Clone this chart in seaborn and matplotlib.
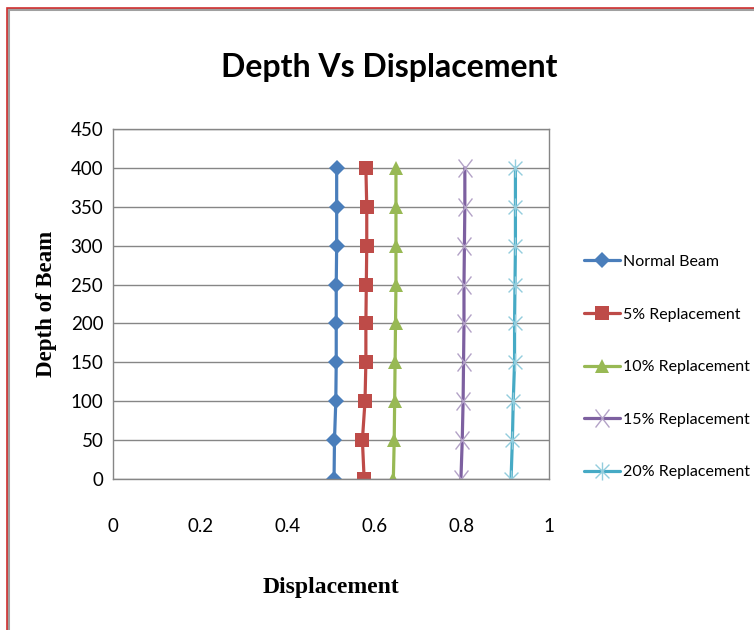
import matplotlib
matplotlib.use("Agg")
import matplotlib.pyplot as plt
import seaborn as sns
import pandas as pd
import numpy as np
from matplotlib.path import Path
from matplotlib.patches import Rectangle

depth = [0, 50, 100, 150, 200, 250, 300, 350, 400]
normal_beam = [0.507, 0.508, 0.511, 0.512, 0.512, 0.512, 0.513, 0.513, 0.513]
rep5 = [0.576, 0.572, 0.578, 0.580, 0.580, 0.581, 0.582, 0.582, 0.580]
rep10 = [0.643, 0.645, 0.646, 0.647, 0.648, 0.649, 0.649, 0.649, 0.649]
rep15 = [0.798, 0.801, 0.803, 0.804, 0.805, 0.805, 0.806, 0.807, 0.807]
rep20 = [0.913, 0.916, 0.918, 0.921, 0.921, 0.922, 0.923, 0.923, 0.923]

labels = ["Normal Beam", "5% Replacement", "10% Replacement", "15% Replacement", "20% Replacement"]
series = [normal_beam, rep5, rep10, rep15, rep20]
colors = ["#4A7EBB", "#BE4B48", "#98B954", "#7D60A0", "#46AAC5"]

sns.set_theme(style="white")
plt.rcParams['font.family'] = ['Lato', 'DejaVu Sans']
plt.rcParams['text.color'] = 'black'
plt.rcParams['axes.labelcolor'] = 'black'

star = Path([(-1, -1), (1, 1), (-1, 1), (1, -1), (0, -1.3), (0, 1.3)],
            [Path.MOVETO, Path.LINETO, Path.MOVETO, Path.LINETO, Path.MOVETO, Path.LINETO])
xmark = Path([(-1, -1.3), (1, 1.3), (-1, 1.3), (1, -1.3)],
             [Path.MOVETO, Path.LINETO, Path.MOVETO, Path.LINETO])
markers = ["D", "s", "^", xmark, star]
msizes = [8.5, 10, 10, 13, 13]
mews = [0, 0, 0, 1.0, 1.0]
mecs = [None, None, None, "#B3A2C7", "#93CDDD"]

fig = plt.figure(figsize=(7.54, 6.30), dpi=100)
ax = fig.add_axes([113/754, 1 - 479/630, 436/754, 350/630])

for lab, vals, col, mk, ms, mew, mec in zip(labels, series, colors, markers, msizes, mews, mecs):
    df = pd.DataFrame({"Displacement": vals, "Depth": depth})
    kw = dict(marker=mk, markersize=ms, markeredgewidth=mew)
    kw["markeredgecolor"] = mec if mec is not None else col
    sns.lineplot(data=df, x="Displacement", y="Depth", ax=ax, color=col, linewidth=2.3,
                 estimator=None, sort=False, orient="y", label=lab, **kw)

ax.set_xlim(0, 1)
ax.set_ylim(0, 450)
ax.set_xticks([0, 0.2, 0.4, 0.6, 0.8, 1.0])
ax.set_xticklabels(["0", "0.2", "0.4", "0.6", "0.8", "1"])
ax.set_yticks(range(0, 451, 50))
ax.yaxis.grid(True, color="#868686", linewidth=1.0)
ax.xaxis.grid(False)
ax.set_axisbelow(True)
for sp in ax.spines.values():
    sp.set_color("#868686")
    sp.set_linewidth(1.0)
ax.tick_params(axis="x", length=0, pad=28, labelsize=13.5, colors="#000000")
ax.tick_params(axis="y", length=0, pad=7, labelsize=13.5, colors="#000000")

ax.set_xlabel("Displacement", family=["Liberation Serif"], fontweight="bold", fontsize=17, labelpad=30)
ax.set_ylabel("Depth of Beam", family=["Liberation Serif"], fontweight="bold", fontsize=16.5, labelpad=10)
fig.text(389/754, 1 - 67/630, "Depth Vs Displacement", ha="center", va="center",
         fontsize=23, fontweight="bold", color="black")

handles, labs = ax.get_legend_handles_labels()
leg = ax.legend(handles, labs, loc="center left", bbox_to_anchor=(578/754, 1 - 367/630),
                bbox_transform=fig.transFigure, frameon=False, fontsize=11.5,
                handlelength=2.2, handletextpad=0.2, labelspacing=2.4, borderaxespad=0)

fig.patches.append(Rectangle((8/754, -0.1), 1.2, 1 - 9/630 + 0.1, transform=fig.transFigure,
                             fill=False, edgecolor="#A0A0A0", linewidth=2.2, zorder=0))
fig.patches.append(Rectangle((7/754, -0.1), 1.2, 1 - 8/630 + 0.1, transform=fig.transFigure,
                             fill=False, edgecolor="#D03030", linewidth=1.2, zorder=1))

fig.savefig("out.png", dpi=100)
